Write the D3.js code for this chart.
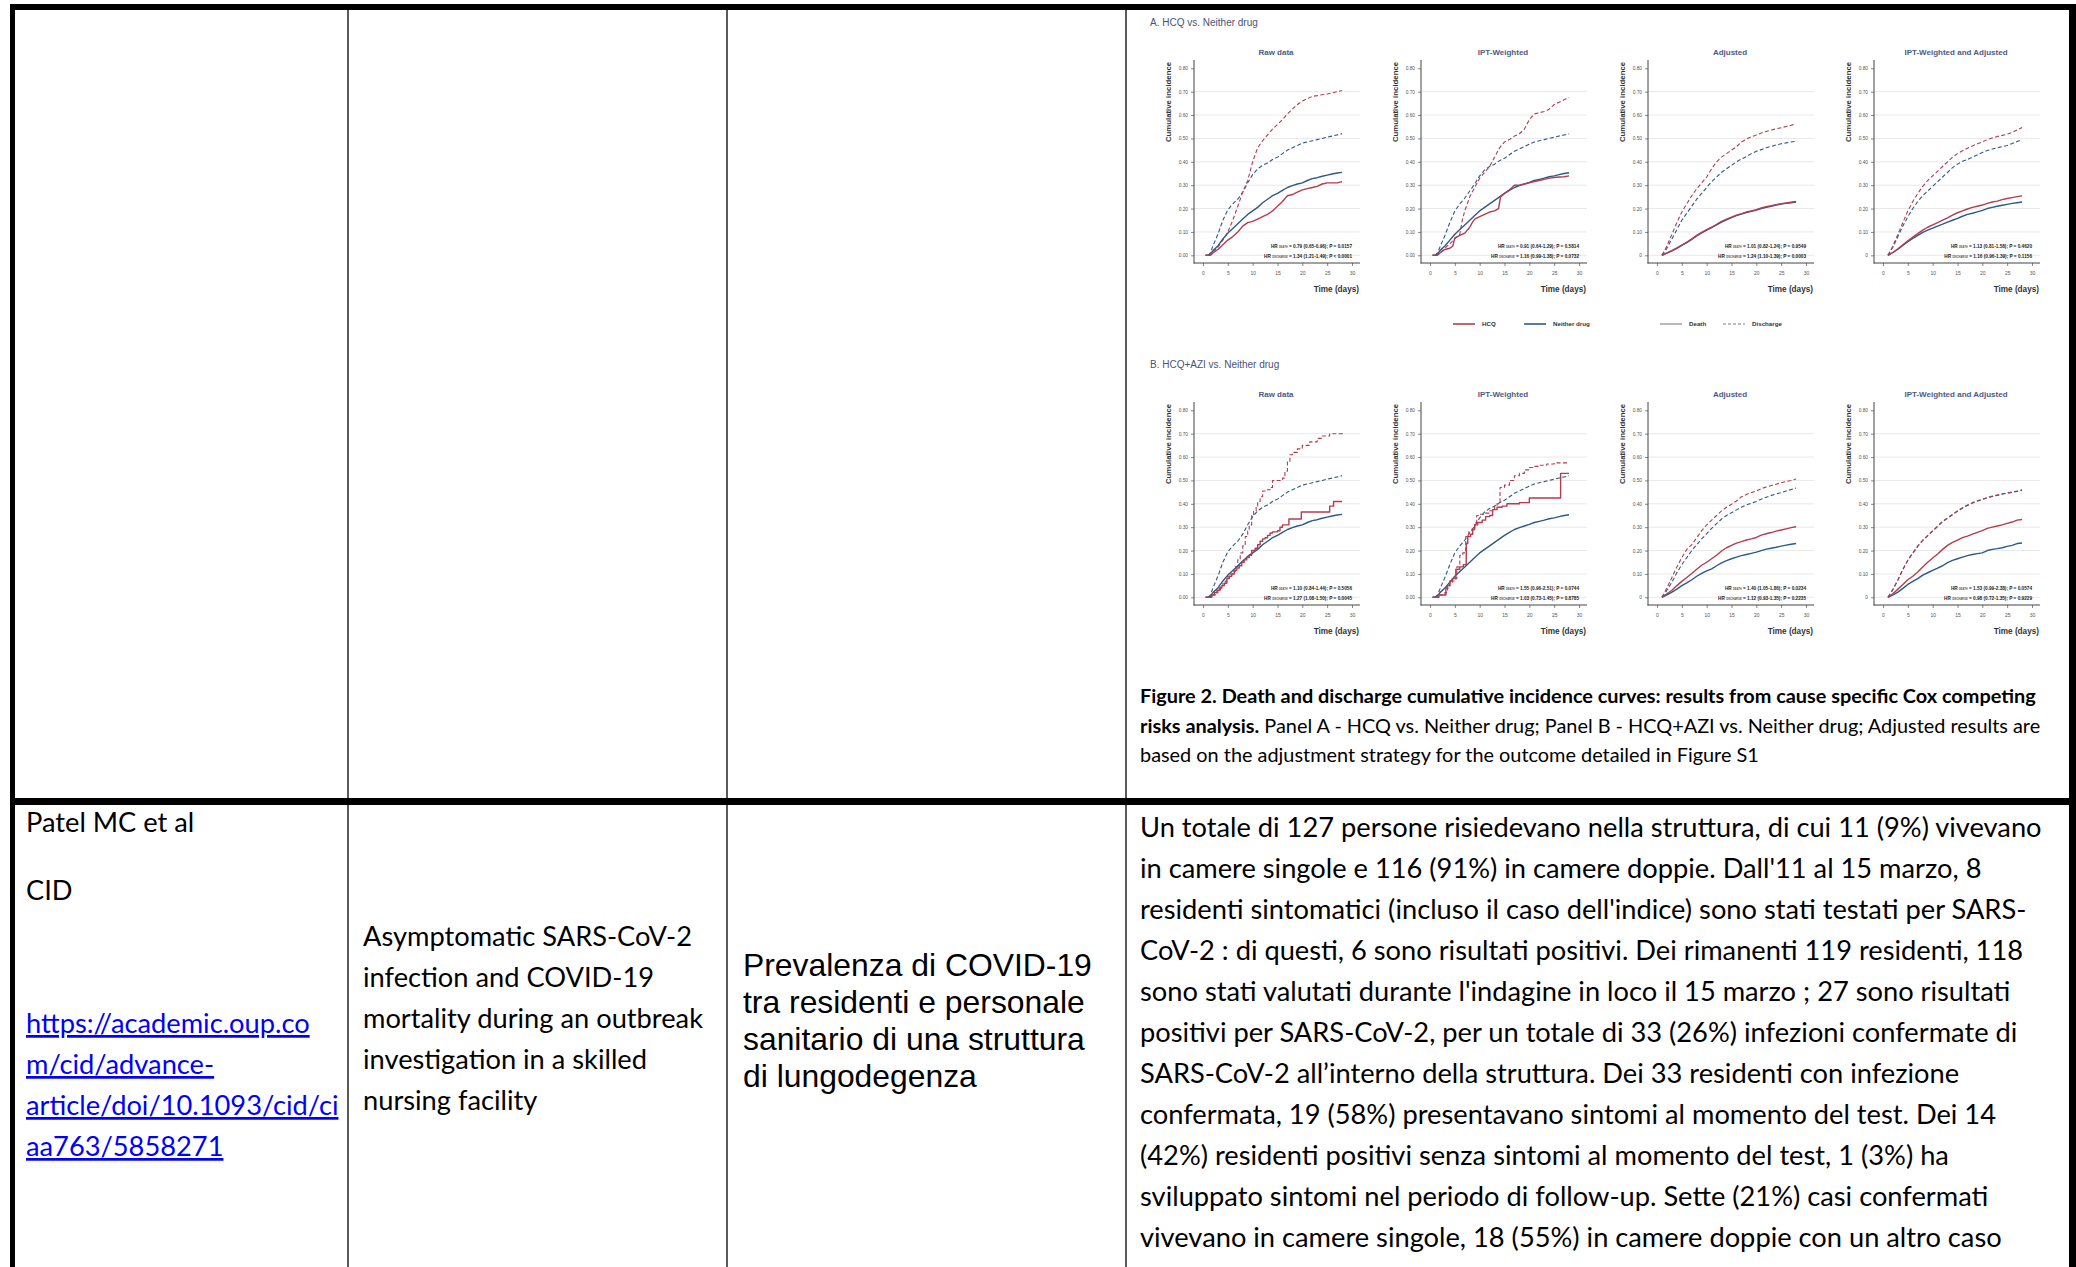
<!DOCTYPE html>
<html>
<head>
<meta charset="utf-8">
<script src="https://cdn.jsdelivr.net/npm/d3@7"></script>
<style>
  body { margin: 0; background: #fff; }
  svg { display: block; }
</style>
</head>
<body>
<svg id="page" width="2076" height="1267"></svg>
<script>
'use strict';

// ---- chart labels ----
const panelTitles = ['Raw data', 'IPT-Weighted', 'Adjusted', 'IPT-Weighted and Adjusted'];
const xTicks = [0, 5, 10, 15, 20, 25, 30];
const yTicks = [0, 0.1, 0.2, 0.3, 0.4, 0.5, 0.6, 0.7, 0.8];
const legendLabels = ['HCQ', 'Neither drug', 'Death', 'Discharge'];

const hrDeathA = ['0.79 (0.65-0.96); P = 0.0157', '0.91 (0.64-1.29); P = 0.5814', '1.01 (0.82-1.24); P = 0.9549', '1.13 (0.81-1.58); P = 0.4620'];
const hrDischargeA = ['1.34 (1.21-1.49); P < 0.0001', '1.16 (0.99-1.38); P = 0.0732', '1.24 (1.10-1.39); P = 0.0003', '1.16 (0.96-1.39); P = 0.1156'];
const hrDeathB = ['1.10 (0.84-1.44); P = 0.5056', '1.55 (0.96-2.51); P = 0.0744', '1.40 (1.05-1.86); P = 0.0234', '1.53 (0.99-2.38); P = 0.0574'];
const hrDischargeB = ['1.27 (1.08-1.50); P = 0.0045', '1.03 (0.73-1.45); P = 0.8785', '1.12 (0.93-1.35); P = 0.2235', '0.98 (0.72-1.35); P = 0.9229'];

// ---- series: [day, cumulative incidence] ----
const rawNeitherDeath = [[0.5,0],[1,0],[1.5,0.005],[2,0.02],[3,0.04],[4,0.07],[5,0.095],[6,0.115],[7,0.135],[8,0.155],[9,0.175],[10,0.19],[11,0.205],[12,0.225],[13,0.24],[14,0.255],[15,0.265],[16,0.278],[17,0.29],[18,0.298],[19,0.305],[20,0.31],[21,0.32],[22,0.328],[23,0.332],[24,0.338],[25,0.343],[26,0.348],[27,0.352],[28,0.355]];
const rawNeitherDischarge = [[1,0],[1.5,0.01],[2,0.04],[3,0.09],[4,0.15],[5,0.195],[6,0.22],[7,0.24],[8,0.27],[9,0.31],[10,0.345],[11,0.37],[12,0.385],[13,0.395],[14,0.41],[15,0.42],[16,0.435],[17,0.45],[18,0.46],[19,0.47],[20,0.48],[21,0.485],[22,0.49],[23,0.495],[24,0.5],[25,0.505],[26,0.51],[27,0.515],[28,0.52]];
const iptNeitherDeath = [[0.5,0],[1,0],[1.5,0.005],[2,0.02],[3,0.04],[4,0.065],[5,0.09],[6,0.11],[7,0.13],[8,0.15],[9,0.17],[10,0.19],[11,0.205],[12,0.22],[13,0.235],[14,0.25],[15,0.265],[16,0.278],[17,0.29],[18,0.298],[19,0.305],[20,0.312],[21,0.32],[22,0.325],[23,0.33],[24,0.336],[25,0.34],[26,0.345],[27,0.35],[28,0.353]];
const iptNeitherDischarge = [[1,0],[1.5,0.01],[2,0.035],[3,0.085],[4,0.14],[5,0.19],[6,0.22],[7,0.245],[8,0.275],[9,0.305],[10,0.34],[11,0.365],[12,0.38],[13,0.39],[14,0.405],[15,0.415],[16,0.43],[17,0.445],[18,0.455],[19,0.465],[20,0.475],[21,0.485],[22,0.49],[23,0.495],[24,0.5],[25,0.505],[26,0.51],[27,0.515],[28,0.52]];

const aRawHcqDeath = [[0.5,0],[1.5,0],[2,0.01],[3,0.025],[4,0.045],[5,0.065],[6,0.08],[7,0.1],[8,0.125],[9,0.14],[10,0.145],[11,0.155],[12,0.165],[13,0.175],[14,0.19],[15,0.21],[16,0.23],[17,0.255],[18,0.26],[19,0.27],[20,0.28],[21,0.285],[22,0.29],[23,0.295],[24,0.305],[25,0.31],[26,0.31],[27,0.31],[28,0.315]];
const aRawHcqDischarge = [[1,0],[2,0.01],[3,0.035],[4,0.065],[5,0.1],[6,0.15],[7,0.21],[8,0.27],[9,0.32],[10,0.4],[11,0.46],[12,0.49],[13,0.515],[14,0.54],[15,0.56],[16,0.58],[17,0.605],[18,0.625],[19,0.645],[20,0.66],[21,0.67],[22,0.68],[23,0.683],[24,0.687],[25,0.69],[26,0.695],[27,0.7],[28,0.705]];
const aIptHcqDeath = [[0.5,0],[1.5,0],[2,0.01],[3,0.025],[4,0.03],[4.6,0.04],[5,0.075],[6,0.085],[7,0.095],[8,0.12],[8.5,0.14],[9,0.155],[10,0.165],[11,0.175],[12,0.185],[13,0.19],[13.8,0.2],[14.2,0.25],[15,0.265],[16,0.28],[17,0.3],[18,0.3],[19,0.305],[20,0.31],[21,0.315],[22,0.32],[23,0.325],[24,0.33],[25,0.333],[26,0.335],[27,0.336],[28,0.34]];
const aIptHcqDischarge = [[1,0],[2,0.01],[3,0.03],[4,0.05],[5,0.07],[6,0.09],[6.5,0.15],[7,0.19],[8,0.25],[9,0.29],[10,0.33],[11,0.355],[12,0.38],[13,0.42],[14,0.46],[15,0.485],[16,0.495],[17,0.51],[18,0.52],[19,0.54],[20,0.58],[21,0.605],[22,0.61],[23,0.615],[24,0.625],[25,0.645],[26,0.655],[27,0.665],[28,0.675]];
const aAdjHcqDeath = [[1,0],[2,0.01],[3,0.02],[4,0.032],[5,0.044],[6,0.056],[7,0.07],[8,0.085],[9,0.098],[10,0.11],[11,0.12],[12,0.132],[13,0.145],[14,0.155],[15,0.163],[16,0.172],[17,0.178],[18,0.185],[19,0.19],[20,0.195],[21,0.203],[22,0.208],[23,0.212],[24,0.217],[25,0.221],[26,0.224],[27,0.227],[28,0.23]];
const aAdjNeitherDeath = [[1,0],[2,0.009],[3,0.019],[4,0.03],[5,0.042],[6,0.054],[7,0.068],[8,0.083],[9,0.096],[10,0.108],[11,0.118],[12,0.13],[13,0.142],[14,0.152],[15,0.161],[16,0.17],[17,0.176],[18,0.183],[19,0.188],[20,0.193],[21,0.2],[22,0.205],[23,0.21],[24,0.215],[25,0.219],[26,0.222],[27,0.225],[28,0.228]];
const aAdjHcqDischarge = [[1,0],[2,0.04],[3,0.09],[4,0.14],[5,0.185],[6,0.22],[7,0.255],[8,0.285],[9,0.31],[10,0.335],[11,0.37],[12,0.4],[13,0.42],[14,0.435],[15,0.45],[16,0.465],[17,0.485],[18,0.497],[19,0.507],[20,0.515],[21,0.523],[22,0.53],[23,0.536],[24,0.541],[25,0.546],[26,0.551],[27,0.556],[28,0.562]];
const aAdjNeitherDischarge = [[1,0],[2,0.03],[3,0.07],[4,0.11],[5,0.15],[6,0.18],[7,0.21],[8,0.24],[9,0.265],[10,0.29],[11,0.315],[12,0.335],[13,0.355],[14,0.37],[15,0.385],[16,0.4],[17,0.412],[18,0.422],[19,0.435],[20,0.445],[21,0.452],[22,0.46],[23,0.466],[24,0.472],[25,0.477],[26,0.481],[27,0.485],[28,0.488]];
const aBothHcqDeath = [[1,0],[2,0.012],[3,0.028],[4,0.045],[5,0.062],[6,0.078],[7,0.093],[8,0.108],[9,0.12],[10,0.13],[11,0.14],[12,0.15],[13,0.16],[14,0.172],[15,0.182],[16,0.19],[17,0.198],[18,0.205],[19,0.21],[20,0.215],[21,0.222],[22,0.228],[23,0.232],[24,0.238],[25,0.243],[26,0.247],[27,0.251],[28,0.254]];
const aBothNeitherDeath = [[1,0],[2,0.012],[3,0.026],[4,0.042],[5,0.058],[6,0.072],[7,0.085],[8,0.098],[9,0.108],[10,0.116],[11,0.125],[12,0.133],[13,0.142],[14,0.15],[15,0.158],[16,0.167],[17,0.175],[18,0.18],[19,0.186],[20,0.192],[21,0.2],[22,0.205],[23,0.21],[24,0.214],[25,0.218],[26,0.222],[27,0.225],[28,0.228]];
const aBothHcqDischarge = [[1,0],[2,0.04],[3,0.09],[4,0.14],[5,0.19],[6,0.23],[7,0.265],[8,0.295],[9,0.32],[10,0.34],[11,0.36],[12,0.38],[13,0.4],[14,0.42],[15,0.435],[16,0.447],[17,0.458],[18,0.468],[19,0.477],[20,0.485],[21,0.495],[22,0.502],[23,0.508],[24,0.513],[25,0.518],[26,0.526],[27,0.536],[28,0.547]];
const aBothNeitherDischarge = [[1,0],[2,0.035],[3,0.08],[4,0.125],[5,0.165],[6,0.2],[7,0.23],[8,0.255],[9,0.275],[10,0.295],[11,0.315],[12,0.335],[13,0.355],[14,0.375],[15,0.39],[16,0.402],[17,0.41],[18,0.42],[19,0.43],[20,0.44],[21,0.448],[22,0.455],[23,0.46],[24,0.465],[25,0.47],[26,0.478],[27,0.487],[28,0.495]];

// step series (value holds from the given day on)
const bRawHcqDeath = [[0.5,0],[1.8,0.01],[2.3,0.02],[2.8,0.03],[3.3,0.04],[3.8,0.05],[4.3,0.06],[4.8,0.08],[5.3,0.09],[5.8,0.1],[6.3,0.115],[6.8,0.125],[7.3,0.135],[7.8,0.15],[8.3,0.16],[8.8,0.17],[9.3,0.18],[9.8,0.2],[10.5,0.21],[11,0.225],[11.5,0.24],[12,0.25],[12.5,0.255],[13,0.265],[13.5,0.275],[14,0.28],[15,0.285],[15.5,0.3],[16,0.31],[17.3,0.335],[19.8,0.365],[25.5,0.39],[26.3,0.41],[28,0.41]];
const bRawHcqDischarge = [[1,0],[2,0.01],[2.5,0.02],[3,0.03],[3.5,0.045],[4,0.06],[4.5,0.07],[5,0.09],[5.5,0.1],[6,0.11],[6.5,0.13],[7,0.16],[7.5,0.19],[8,0.22],[8.5,0.26],[9,0.29],[9.3,0.31],[9.8,0.35],[10.2,0.37],[10.7,0.39],[11,0.41],[11.5,0.43],[12,0.455],[12.5,0.46],[13.5,0.47],[14,0.5],[16,0.51],[16.5,0.54],[17,0.58],[17.5,0.61],[18,0.62],[19,0.635],[20,0.65],[21.5,0.665],[23,0.68],[24,0.69],[25.5,0.7],[28,0.71]];
const bIptHcqDeath = [[0.5,0],[1.8,0.01],[3.2,0.04],[3.5,0.05],[4,0.07],[4.5,0.08],[5.2,0.12],[6,0.13],[6.7,0.14],[7.3,0.23],[7.6,0.26],[8.2,0.27],[8.6,0.29],[9,0.31],[9.6,0.32],[10.5,0.33],[11.2,0.345],[12,0.35],[12.6,0.375],[13.5,0.385],[14.5,0.39],[15.5,0.4],[18,0.405],[20,0.425],[26.3,0.53],[28,0.53]];
const bIptHcqDischarge = [[1,0],[2,0.01],[3,0.02],[3.5,0.04],[4,0.06],[4.5,0.07],[5,0.08],[5.4,0.13],[6,0.18],[6.6,0.19],[7.2,0.26],[7.8,0.28],[8.5,0.3],[9,0.32],[9.4,0.35],[10,0.355],[11,0.36],[12,0.37],[13,0.39],[13.5,0.4],[14.1,0.47],[15,0.48],[16,0.5],[17,0.52],[18,0.53],[19,0.545],[20,0.555],[21,0.56],[22,0.565],[23.5,0.57],[25,0.575],[28,0.575]];

const bAdjHcqDeath = [[1,0],[2,0.015],[3,0.03],[4,0.05],[5,0.068],[6,0.085],[7,0.102],[8,0.12],[9,0.137],[10,0.15],[11,0.165],[12,0.18],[13,0.198],[14,0.212],[15,0.222],[16,0.232],[17,0.238],[18,0.245],[19,0.25],[20,0.256],[21,0.266],[22,0.272],[23,0.277],[24,0.283],[25,0.288],[26,0.293],[27,0.298],[28,0.302]];
const bAdjNeitherDeath = [[1,0],[2,0.01],[3,0.022],[4,0.035],[5,0.05],[6,0.062],[7,0.075],[8,0.09],[9,0.102],[10,0.113],[11,0.122],[12,0.135],[13,0.147],[14,0.157],[15,0.165],[16,0.172],[17,0.178],[18,0.183],[19,0.188],[20,0.193],[21,0.2],[22,0.206],[23,0.21],[24,0.214],[25,0.219],[26,0.223],[27,0.227],[28,0.23]];
const bAdjHcqDischarge = [[1,0],[2,0.04],[3,0.085],[4,0.13],[5,0.17],[6,0.205],[7,0.225],[8,0.255],[9,0.285],[10,0.31],[11,0.33],[12,0.35],[13,0.37],[14,0.385],[15,0.398],[16,0.412],[17,0.43],[18,0.44],[19,0.448],[20,0.455],[21,0.465],[22,0.472],[23,0.478],[24,0.484],[25,0.49],[26,0.495],[27,0.5],[28,0.506]];
const bAdjNeitherDischarge = [[1,0],[2,0.03],[3,0.065],[4,0.105],[5,0.14],[6,0.17],[7,0.2],[8,0.225],[9,0.25],[10,0.272],[11,0.295],[12,0.315],[13,0.335],[14,0.35],[15,0.362],[16,0.374],[17,0.385],[18,0.395],[19,0.403],[20,0.41],[21,0.42],[22,0.428],[23,0.436],[24,0.442],[25,0.448],[26,0.455],[27,0.461],[28,0.467]];
const bBothHcqDeath = [[1,0],[2,0.015],[3,0.035],[4,0.055],[5,0.075],[6,0.09],[7,0.108],[8,0.13],[9,0.15],[10,0.168],[11,0.185],[12,0.205],[13,0.222],[14,0.235],[15,0.245],[16,0.255],[17,0.262],[18,0.27],[19,0.278],[20,0.285],[21,0.295],[22,0.3],[23,0.305],[24,0.31],[25,0.316],[26,0.322],[27,0.33],[28,0.333]];
const bBothNeitherDeath = [[1,0],[2,0.01],[3,0.022],[4,0.038],[5,0.055],[6,0.068],[7,0.08],[8,0.095],[9,0.105],[10,0.115],[11,0.125],[12,0.135],[13,0.148],[14,0.158],[15,0.165],[16,0.172],[17,0.178],[18,0.183],[19,0.187],[20,0.19],[21,0.2],[22,0.205],[23,0.208],[24,0.212],[25,0.218],[26,0.222],[27,0.23],[28,0.232]];
const bBothHcqDischarge = [[1,0],[2,0.035],[3,0.075],[4,0.12],[5,0.16],[6,0.19],[7,0.22],[8,0.245],[9,0.265],[10,0.285],[11,0.305],[12,0.325],[13,0.34],[14,0.355],[15,0.37],[16,0.383],[17,0.395],[18,0.405],[19,0.413],[20,0.42],[21,0.427],[22,0.433],[23,0.438],[24,0.443],[25,0.447],[26,0.451],[27,0.455],[28,0.46]];
const bBothNeitherDischarge = [[1,0],[2,0.033],[3,0.073],[4,0.118],[5,0.158],[6,0.188],[7,0.218],[8,0.243],[9,0.263],[10,0.283],[11,0.303],[12,0.323],[13,0.338],[14,0.353],[15,0.368],[16,0.381],[17,0.393],[18,0.403],[19,0.411],[20,0.418],[21,0.425],[22,0.431],[23,0.436],[24,0.441],[25,0.445],[26,0.449],[27,0.453],[28,0.457]];

// ---- table text ----
const authorLines = ['Patel MC et al', 'CID'];
const urlLines = ['https://academic.oup.co', 'm/cid/advance-', 'article/doi/10.1093/cid/ci', 'aa763/5858271'];
const titleLines = ['Asymptomatic SARS-CoV-2', 'infection and COVID-19', 'mortality during an outbreak', 'investigation in a skilled', 'nursing facility'];
const topicLines = ['Prevalenza di COVID-19', 'tra residenti e personale', 'sanitario di una struttura', 'di lungodegenza'];
const captionLines = [
  [['Figure 2. Death and discharge cumulative incidence curves: results from cause specific Cox competing', true]],
  [['risks analysis.', true], [' Panel A - HCQ vs. Neither drug; Panel B - HCQ+AZI vs. Neither drug; Adjusted results are', false]],
  [['based on the adjustment strategy for the outcome detailed in Figure S1', false]]
];
const summaryLines = [
  'Un totale di 127 persone risiedevano nella struttura, di cui 11 (9%) vivevano',
  'in camere singole e 116 (91%) in camere doppie. Dall\'11 al 15 marzo, 8',
  'residenti sintomatici (incluso il caso dell\'indice) sono stati testati per SARS-',
  'CoV-2 : di questi, 6 sono risultati positivi. Dei rimanenti 119 residenti, 118',
  'sono stati valutati durante l\'indagine in loco il 15 marzo ; 27 sono risultati',
  'positivi per SARS-CoV-2, per un totale di 33 (26%) infezioni confermate di',
  'SARS-CoV-2 all’interno della struttura. Dei 33 residenti con infezione',
  'confermata, 19 (58%) presentavano sintomi al momento del test. Dei 14',
  '(42%) residenti positivi senza sintomi al momento del test, 1 (3%) ha',
  'sviluppato sintomi nel periodo di follow-up. Sette (21%) casi confermati',
  'vivevano in camere singole, 18 (55%) in camere doppie con un altro caso'
];

const panelsA = [
  [aRawHcqDeath, rawNeitherDeath, aRawHcqDischarge, rawNeitherDischarge],
  [aIptHcqDeath, iptNeitherDeath, aIptHcqDischarge, iptNeitherDischarge],
  [aAdjHcqDeath, aAdjNeitherDeath, aAdjHcqDischarge, aAdjNeitherDischarge],
  [aBothHcqDeath, aBothNeitherDeath, aBothHcqDischarge, aBothNeitherDischarge]
];
const panelsB = [
  [bRawHcqDeath, rawNeitherDeath, bRawHcqDischarge, rawNeitherDischarge],
  [bIptHcqDeath, iptNeitherDeath, bIptHcqDischarge, iptNeitherDischarge],
  [bAdjHcqDeath, bAdjNeitherDeath, bAdjHcqDischarge, bAdjNeitherDischarge],
  [bBothHcqDeath, bBothNeitherDeath, bBothHcqDischarge, bBothNeitherDischarge]
];

const hcqColor = '#b23c50';
const neitherColor = '#2c5a86';
const chartFont = '"Liberation Sans", Arial, sans-serif';
const bodyFont = 'Lato, "Open Sans", sans-serif';

const svg = d3.select('#page');

const measure = (str, family, weight, size) => {
  const t = svg.append('text').attr('font-family', family).attr('font-weight', weight)
    .attr('font-size', size).text(str);
  const w = t.node().getComputedTextLength();
  t.remove();
  return w;
};
const fitSize = (str, family, weight, width) => 100 * width / measure(str, family, weight, 100);

// ---- table frame ----
const frame = svg.append('g');
frame.append('rect').attr('x', 10).attr('y', 4).attr('width', 2066).attr('height', 6).attr('fill', '#000');
frame.append('rect').attr('x', 10).attr('y', 4).attr('width', 5).attr('height', 1263).attr('fill', '#000');
frame.append('rect').attr('x', 2069).attr('y', 4).attr('width', 7).attr('height', 1263).attr('fill', '#000');
frame.append('rect').attr('x', 10).attr('y', 798).attr('width', 2066).attr('height', 7).attr('fill', '#000');
[348, 727, 1126].forEach(cx => {
  frame.append('line').attr('x1', cx).attr('x2', cx).attr('y1', 10).attr('y2', 1267)
    .attr('stroke', '#000').attr('stroke-width', 1.3);
});

// ---- panels ----
const panelLeft = [1194, 1421, 1648, 1874];

const drawPanel = (left, top, series, index, hrDeath, hrDischarge, stepHcq) => {
  const g = svg.append('g').attr('transform', `translate(${left},${top})`);
  const x = d3.scaleLinear().domain([0, 30]).range([9, 158]);
  const y = d3.scaleLinear().domain([0, 0.8]).range([255.3, 68.3]);

  g.selectAll('line.grid').data(yTicks.filter(t => t < 0.75)).join('line')
    .attr('class', 'grid')
    .attr('x1', 0).attr('x2', 166)
    .attr('y1', d => y(d)).attr('y2', d => y(d))
    .attr('stroke', '#e2e2e2').attr('stroke-width', 0.8);

  const yAxis = d3.axisLeft(y).tickValues(yTicks).tickSize(3).tickPadding(3)
    .tickFormat(d => (index >= 2 && d === 0) ? '0' : d3.format('.2f')(d));
  g.append('g').call(yAxis)
    .call(s => s.select('.domain').remove())
    .call(s => s.selectAll('line').attr('stroke', '#555').attr('stroke-width', 0.7))
    .call(s => s.selectAll('text').attr('fill', '#555'))
    .attr('font-size', 4.8).attr('font-family', chartFont);

  const xAxis = d3.axisBottom(x).tickValues(xTicks).tickSize(3).tickPadding(5);
  g.append('g').attr('transform', 'translate(0,263)').call(xAxis)
    .call(s => s.select('.domain').remove())
    .call(s => s.selectAll('line').attr('stroke', '#555').attr('stroke-width', 0.7))
    .call(s => s.selectAll('text').attr('fill', '#555'))
    .attr('font-size', 5).attr('font-family', chartFont);

  g.append('line').attr('x1', 0).attr('x2', 0).attr('y1', 60).attr('y2', 263.5)
    .attr('stroke', '#444').attr('stroke-width', 1);
  g.append('line').attr('x1', -0.5).attr('x2', 166).attr('y1', 263).attr('y2', 263)
    .attr('stroke', '#444').attr('stroke-width', 1);

  const styles = [
    { color: neitherColor, dash: '4,2.4', width: 1.1, data: series[3], step: false },
    { color: hcqColor, dash: '4,2.4', width: 1.1, data: series[2], step: stepHcq },
    { color: neitherColor, dash: null, width: 1.4, data: series[1], step: false },
    { color: hcqColor, dash: null, width: 1.4, data: series[0], step: stepHcq }
  ];
  styles.forEach(s => {
    const line = d3.line().x(d => x(d[0])).y(d => y(d[1]))
      .curve(s.step ? d3.curveStepAfter : d3.curveLinear);
    g.append('path').datum(s.data)
      .attr('d', line)
      .attr('fill', 'none')
      .attr('stroke', s.color)
      .attr('stroke-width', s.width)
      .attr('stroke-linejoin', 'round')
      .attr('stroke-dasharray', s.dash);
  });

  g.append('text').attr('x', 82).attr('y', 54.5).attr('text-anchor', 'middle')
    .attr('font-family', chartFont).attr('font-weight', 'bold').attr('font-size', 8)
    .attr('fill', '#4d5a84').text(panelTitles[index]);

  g.append('text').attr('transform', 'translate(-23,102) rotate(-90)')
    .attr('text-anchor', 'middle').attr('font-family', chartFont)
    .attr('font-weight', 'bold').attr('font-size', 7.8).attr('fill', '#333')
    .text('Cumulative incidence');

  g.append('text').attr('x', 165).attr('y', 292).attr('text-anchor', 'end')
    .attr('font-family', chartFont).attr('font-weight', 'bold').attr('font-size', 8.2)
    .attr('fill', '#333').text('Time (days)');

  [['DEATH', hrDeath, 247.5], ['DISCHARGE', hrDischarge, 257.5]].forEach(([sub, val, yy]) => {
    const t = g.append('text').attr('x', 158).attr('y', yy).attr('text-anchor', 'end')
      .attr('font-family', chartFont).attr('font-weight', 'bold').attr('font-size', 4.7)
      .attr('fill', '#222');
    t.append('tspan').text('HR ');
    t.append('tspan').attr('font-size', 2.6).attr('dy', 0.8).attr('fill', '#555').text(sub);
    t.append('tspan').attr('dy', -0.8).text(' = ' + val);
  });
};

panelsA.forEach((series, i) => drawPanel(panelLeft[i], 0, series, i, hrDeathA[i], hrDischargeA[i], false));
panelsB.forEach((series, i) => drawPanel(panelLeft[i], 342, series, i, hrDeathB[i], hrDischargeB[i], i < 2));

svg.append('text').attr('x', 1150).attr('y', 25.5).attr('font-family', chartFont)
  .attr('font-size', 10).attr('fill', '#4a5275').text('A. HCQ vs. Neither drug');
svg.append('text').attr('x', 1150).attr('y', 367.5).attr('font-family', chartFont)
  .attr('font-size', 10).attr('fill', '#4a5275').text('B. HCQ+AZI vs. Neither drug');

// ---- legend ----
const legendItems = [
  { label: legendLabels[0], color: hcqColor, dash: null, x: 1453 },
  { label: legendLabels[1], color: neitherColor, dash: null, x: 1524 },
  { label: legendLabels[2], color: '#a8a8a8', dash: null, x: 1660 },
  { label: legendLabels[3], color: '#a8a8a8', dash: '3,2', x: 1723 }
];
const legend = svg.append('g').attr('transform', 'translate(0,324)');
legendItems.forEach(item => {
  legend.append('line').attr('x1', item.x).attr('x2', item.x + 22).attr('y1', 0).attr('y2', 0)
    .attr('stroke', item.color).attr('stroke-width', 1.6).attr('stroke-dasharray', item.dash);
  legend.append('text').attr('x', item.x + 29).attr('y', 2.2)
    .attr('font-family', chartFont).attr('font-weight', 'bold').attr('font-size', 6.2)
    .attr('fill', '#333').text(item.label);
});

// ---- caption ----
const captionSize = fitSize(captionLines[0][0][0], bodyFont, 'bold', 896);
captionLines.forEach((parts, i) => {
  const t = svg.append('text').attr('x', 1140).attr('y', 703 + i * 29.5)
    .attr('font-family', bodyFont).attr('font-size', captionSize).attr('fill', '#000');
  parts.forEach(([str, bold]) => {
    t.append('tspan').attr('font-weight', bold ? 'bold' : 'normal').text(str);
  });
});

// ---- table body ----
const bodySize = fitSize(summaryLines[0], bodyFont, 'normal', 902);
const addLines = (lines, x, y0, step, opts) => {
  lines.forEach((str, i) => {
    svg.append('text').attr('x', x).attr('y', y0 + i * step)
      .attr('font-family', opts.family).attr('font-size', opts.size)
      .attr('fill', opts.color || '#000')
      .attr('text-decoration', opts.underline ? 'underline' : null)
      .text(str);
  });
};

addLines(summaryLines, 1140, 837, 41, { family: bodyFont, size: bodySize });
addLines([authorLines[0]], 26, 832, 41, { family: bodyFont, size: bodySize });
addLines([authorLines[1]], 26, 900, 41, { family: bodyFont, size: bodySize });
addLines(urlLines, 26, 1033, 41, { family: bodyFont, size: bodySize, color: '#0000ff', underline: true });
addLines(titleLines, 363, 946, 41, { family: bodyFont, size: bodySize });

const topicSize = fitSize(topicLines[0], chartFont, 'normal', 349);
addLines(topicLines, 743, 976, 37, { family: chartFont, size: topicSize });
</script>
</body>
</html>
